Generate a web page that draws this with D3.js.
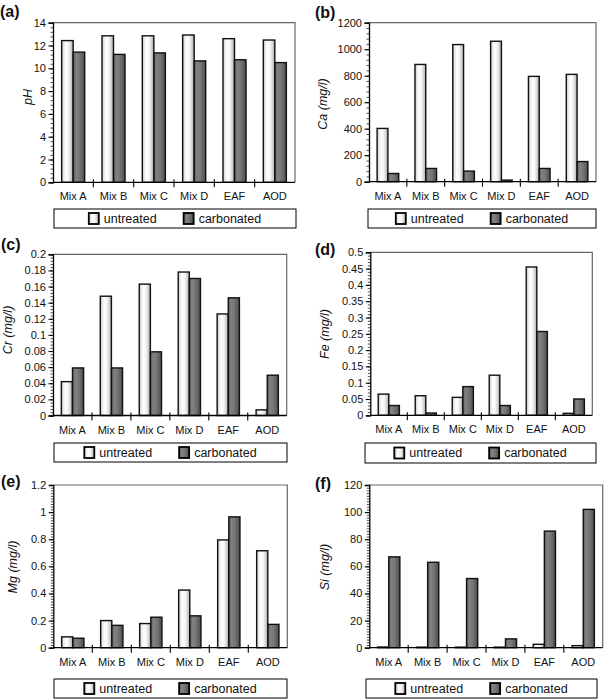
<!DOCTYPE html>
<html>
<head>
<meta charset="utf-8">
<script src="https://cdn.jsdelivr.net/npm/d3@7"></script>
<style>
  html, body { margin: 0; padding: 0; background: #fff; }
  svg { display: block; }
  text { font-family: "Liberation Sans", Arial, sans-serif; fill: #111; }
</style>
</head>
<body>
<svg id="chart" width="605" height="700"></svg>
<script>
// ---------------- DATA ----------------
const categories = ["Mix A", "Mix B", "Mix C", "Mix D", "EAF", "AOD"];
const seriesNames = ["untreated", "carbonated"];

const pHUntreated = [12.43, 12.85, 12.85, 12.92, 12.6, 12.48];
const pHCarbonated = [11.42, 11.22, 11.35, 10.65, 10.75, 10.5];

const caUntreated = [402, 885, 1035, 1060, 795, 810];
const caCarbonated = [62, 100, 80, 12, 100, 152];

const crUntreated = [0.042, 0.148, 0.163, 0.178, 0.126, 0.007];
const crCarbonated = [0.059, 0.059, 0.079, 0.170, 0.146, 0.050];

const feUntreated = [0.065, 0.060, 0.055, 0.123, 0.455, 0.006];
const feCarbonated = [0.030, 0.007, 0.088, 0.030, 0.257, 0.050];

const mgUntreated = [0.080, 0.200, 0.178, 0.425, 0.795, 0.715];
const mgCarbonated = [0.070, 0.165, 0.225, 0.235, 0.965, 0.172];

const siUntreated = [0.5, 0.4, 0.4, 0.4, 2.5, 1.5];
const siCarbonated = [67, 63, 51, 6.5, 86, 102];

const pHTicks = [0, 2, 4, 6, 8, 10, 12, 14];
const caTicks = [0, 200, 400, 600, 800, 1000, 1200];
const crTicks = [0, 0.02, 0.04, 0.06, 0.08, 0.1, 0.12, 0.14, 0.16, 0.18, 0.2];
const feTicks = [0, 0.05, 0.1, 0.15, 0.2, 0.25, 0.3, 0.35, 0.4, 0.45, 0.5];
const mgTicks = [0, 0.2, 0.4, 0.6, 0.8, 1, 1.2];
const siTicks = [0, 20, 40, 60, 80, 100, 120];

const panelLabels = ["(a)", "(b)", "(c)", "(d)", "(e)", "(f)"];
const axisTitles = [["pH", ""], ["Ca", " (mg/l)"], ["Cr", " (mg/l)"], ["Fe", " (mg/l)"], ["Mg", " (mg/l)"], ["Si", " (mg/l)"]];

// ---------------- LAYOUT ----------------
const panels = [
  { label: panelLabels[0], title: axisTitles[0], u: pHUntreated, c: pHCarbonated, ticks: pHTicks, minor: 5,
    plot: [53, 22.7, 295, 182.3], legend: [54, 209, 296, 228], lab: [0, 11], tt: [28, 97] },
  { label: panelLabels[1], title: axisTitles[1], u: caUntreated, c: caCarbonated, ticks: caTicks, minor: 5,
    plot: [369, 22.7, 596, 181.7], legend: [368, 209, 596, 228], lab: [315, 12], tt: [323, 104] },
  { label: panelLabels[2], title: axisTitles[2], u: crUntreated, c: crCarbonated, ticks: crTicks, minor: 5,
    plot: [53, 254.3, 286.7, 415.5], legend: [54, 443, 287, 462], lab: [1, 244], tt: [8, 330] },
  { label: panelLabels[3], title: axisTitles[3], u: feUntreated, c: feCarbonated, ticks: feTicks, minor: 5,
    plot: [370.3, 252.3, 592.3, 415.3], legend: [365, 443, 596, 463], lab: [315, 249], tt: [325, 334] },
  { label: panelLabels[4], title: axisTitles[4], u: mgUntreated, c: mgCarbonated, ticks: mgTicks, minor: 10,
    plot: [53.3, 485, 287.3, 647.7], legend: [54, 679, 287, 698], lab: [1, 481], tt: [13, 567] },
  { label: panelLabels[5], title: axisTitles[5], u: siUntreated, c: siCarbonated, ticks: siTicks, minor: 10,
    plot: [369.3, 485, 602.7, 647.7], legend: [366, 679, 597, 698], lab: [315, 483], tt: [325, 567] }
];

const svg = d3.select("#chart");
const defs = svg.append("defs");

function grad(id, stops) {
  const g = defs.append("linearGradient").attr("id", id)
    .attr("x1", "0%").attr("x2", "100%").attr("y1", "0%").attr("y2", "0%");
  stops.forEach(s => g.append("stop").attr("offset", s[0]).attr("stop-color", s[1]));
}
grad("gU", [["0%", "#b8b8b8"], ["15%", "#e6e6e6"], ["38%", "#ffffff"], ["62%", "#f2f2f2"], ["82%", "#cfcfcf"], ["100%", "#a9a9a9"]]);
grad("gC", [["0%", "#5c5c5c"], ["25%", "#828282"], ["55%", "#757575"], ["100%", "#4e4e4e"]]);
const fills = ["url(#gU)", "url(#gC)"];

panels.forEach(p => {
  const [x0, y0, x1, y1] = p.plot;
  const g = svg.append("g");
  const yMax = p.ticks[p.ticks.length - 1];
  const y = d3.scaleLinear().domain([0, yMax]).range([y1, y0]);
  const x = d3.scaleBand().domain(categories).range([x0, x1]).paddingInner(0).paddingOuter(0);
  const bw = x.bandwidth() / 3.5;
  const xs = d3.scaleBand().domain(seriesNames).range([0, 2 * bw]);

  // top/right frame
  g.append("path")
    .attr("d", `M${x0},${y0}H${x1}V${y1}`)
    .attr("fill", "none").attr("stroke", "#666").attr("stroke-width", 1.2);

  // bars
  const groups = g.selectAll(".cat").data(categories).enter().append("g")
    .attr("transform", d => `translate(${x(d) + (x.bandwidth() - 2 * bw) / 2},0)`);
  groups.each(function (cat, i) {
    const vals = [p.u[i], p.c[i]];
    d3.select(this).selectAll("rect").data(vals).enter().append("rect")
      .attr("x", (d, j) => xs(seriesNames[j]))
      .attr("width", bw)
      .attr("y", d => y(d))
      .attr("height", d => Math.max(0, y(0) - y(d)))
      .attr("fill", (d, j) => fills[j])
      .attr("stroke", "#111").attr("stroke-width", 1.4);
  });

  // y axis with minor ticks
  const minorStep = (p.ticks[1] - p.ticks[0]) / p.minor;
  const minorTicks = d3.range(0, yMax + minorStep / 2, minorStep);
  const yMinor = d3.axisLeft(y).tickValues(minorTicks).tickSize(2.5).tickFormat("");
  const gm = g.append("g").attr("transform", `translate(${x0},0)`).call(yMinor);
  gm.select(".domain").remove();
  gm.selectAll("line").attr("stroke", "#222").attr("stroke-width", 0.8);

  const yAxis = d3.axisLeft(y).tickValues(p.ticks).tickSize(4.5).tickPadding(2.5)
    .tickFormat(d => d3.format("~g")(d));
  const ga = g.append("g").attr("transform", `translate(${x0},0)`).call(yAxis);
  ga.select(".domain").attr("stroke", "#000").attr("stroke-width", 1.3);
  ga.selectAll("line").attr("stroke", "#000").attr("stroke-width", 1.1);
  ga.selectAll("text").attr("font-size", 11).attr("fill", "#111")
    .style("font-family", "Liberation Sans, Arial, sans-serif");

  // x axis
  const gx = g.append("g").attr("transform", `translate(0,${y1})`);
  gx.append("line").attr("x1", x0).attr("x2", x1).attr("y1", 0).attr("y2", 0)
    .attr("stroke", "#000").attr("stroke-width", 1.3);
  const bounds = categories.slice(1).map(c => x(c));
  gx.selectAll(".xt").data(bounds).enter().append("line")
    .attr("x1", d => d).attr("x2", d => d).attr("y1", -3).attr("y2", 5)
    .attr("stroke", "#000").attr("stroke-width", 1.1);
  gx.selectAll(".xl").data(categories).enter().append("text")
    .attr("x", d => x(d) + x.bandwidth() / 2).attr("y", 18)
    .attr("text-anchor", "middle").attr("font-size", 11)
    .text(d => d);

  // axis title
  const t = g.append("text")
    .attr("transform", `translate(${p.tt[0]},${p.tt[1]}) rotate(-90)`)
    .attr("text-anchor", "middle").attr("dominant-baseline", "central")
    .attr("font-size", 12.5).attr("font-style", "italic");
  t.append("tspan").text(p.title[0]);
  if (p.title[1]) t.append("tspan").text(p.title[1]);

  // panel label
  g.append("text").attr("x", p.lab[0]).attr("y", p.lab[1])
    .attr("dominant-baseline", "central")
    .attr("font-size", 16).attr("font-weight", "bold").text(p.label);

  // legend
  const [lx0, ly0, lx1, ly1] = p.legend;
  g.append("rect").attr("x", lx0).attr("y", ly0).attr("width", lx1 - lx0).attr("height", ly1 - ly0)
    .attr("fill", "#fff").attr("stroke", "#000").attr("stroke-width", 1);
  const lg = g.append("g");
  const cy = (ly0 + ly1) / 2;
  let cx = 0;
  seriesNames.forEach((s, j) => {
    lg.append("rect").attr("x", cx).attr("y", cy - 5.5).attr("width", 10).attr("height", 11)
      .attr("fill", fills[j]).attr("stroke", "#000").attr("stroke-width", 1.8);
    const tx = lg.append("text").attr("x", cx + 15).attr("y", cy)
      .attr("dominant-baseline", "central").attr("font-size", 12.5).text(s);
    cx += 15 + tx.node().getComputedTextLength() + 27;
  });
  const w = cx - 27;
  lg.attr("transform", `translate(${(lx0 + lx1) / 2 - w / 2},0)`);
});
</script>
</body>
</html>
